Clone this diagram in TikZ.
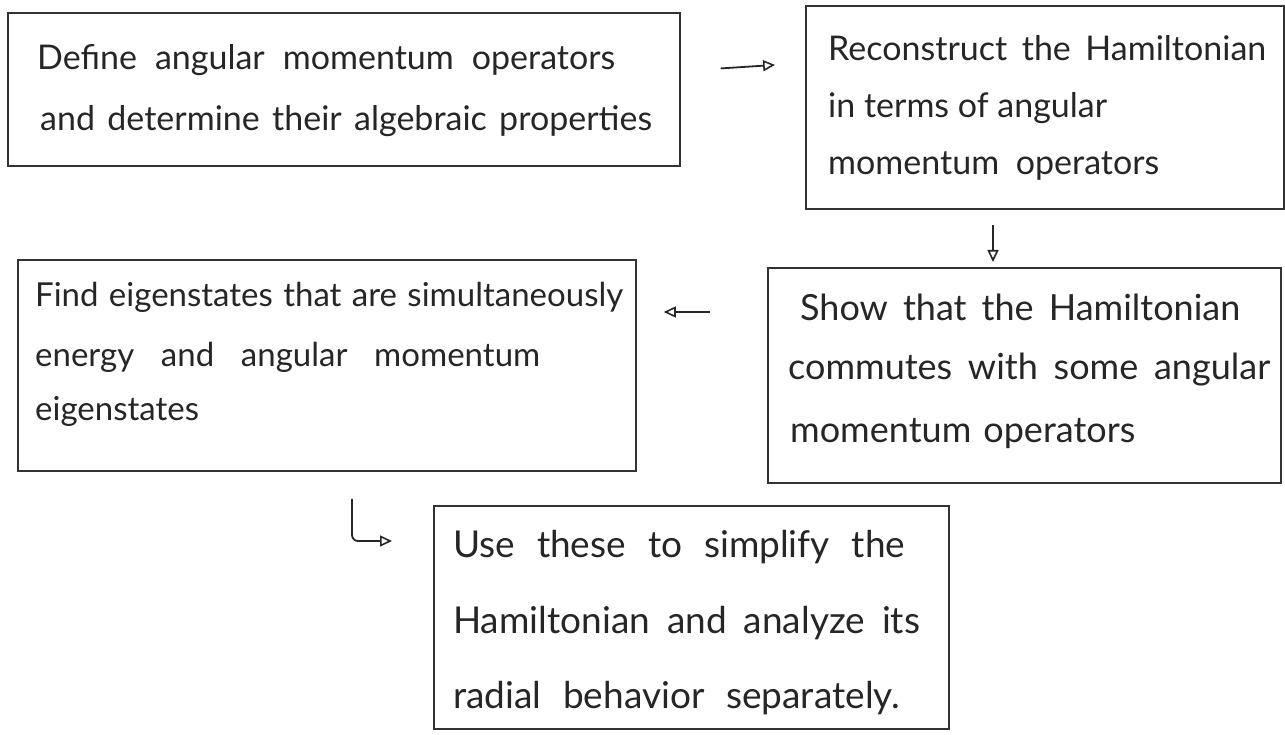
\documentclass[tikz,border=0pt]{standalone}
\usepackage{fontspec}
\setmainfont{Lato}
\usetikzlibrary{arrows.meta}
\newcommand{\spreadline}[2]{\makebox[#1pt][s]{#2}}
\begin{document}
\begin{tikzpicture}[x=1pt,y=-1pt,
  box/.style={draw=black!80, line width=1.8pt, anchor=north west, inner sep=0pt},
  txt/.style={anchor=base west, inner sep=0pt, font=\fontsize{34}{34}\selectfont, text=black!85},
  txtm/.style={txt, font=\fontsize{36}{36}\selectfont},
  txtl/.style={txt, font=\fontsize{37}{37}\selectfont},
  txts/.style={txt, font=\fontsize{33}{33}\selectfont},
  arr/.style={draw=black!85, line width=1.8pt, -{Triangle[open,length=12pt,width=11pt,line width=1.6pt]}}]
\useasboundingbox (0,0) rectangle (1285,735);
% boxes
\node[box, minimum width=672pt, minimum height=153pt] (b1) at (7,12) {};
\node[box, minimum width=478pt, minimum height=203pt] (b2) at (805,5) {};
\node[box, minimum width=618pt, minimum height=211pt] (b3) at (17,259) {};
\node[box, minimum width=513pt, minimum height=215pt] (b4) at (767,267) {};
\node[box, minimum width=515pt, minimum height=223pt] (b5) at (433,505) {};
% texts
\node[txt] (t1a) at (37,70) {\spreadline{578}{Define angular momentum operators}};
\node[txt] (t1b) at (40,131) {\spreadline{612}{and determine their algebraic properties}};
\node[txt] (t2a) at (828,61) {\spreadline{438}{Reconstruct the Hamiltonian}};
\node[txt] (t2b) at (828,118) {in terms of angular};
\node[txt] (t2c) at (828,175) {\spreadline{331}{momentum operators}};
\node[txts] (t3a) at (35,307) {\spreadline{588}{Find eigenstates that are simultaneously}};
\node[txts] (t3b) at (35,366) {\spreadline{505}{energy and angular momentum}};
\node[txts] (t3c) at (35,420) {eigenstates};
\node[txtm] (t4a) at (800,320) {\spreadline{440}{Show that the Hamiltonian}};
\node[txtm] (t4b) at (788,379) {\spreadline{482}{commutes with some angular}};
\node[txtm] (t4c) at (790,442) {\spreadline{345}{momentum operators}};
\node[txtl] (t5a) at (453,557) {\spreadline{452}{Use these to simplify the}};
\node[txtl] (t5b) at (453,633) {\spreadline{467}{Hamiltonian and analyze its}};
\node[txtl] (t5c) at (453,708) {\spreadline{447}{radial behavior separately.}};
% connectors
\draw[arr, shorten <=40pt, shorten >=30pt] (b1.east |- 0,71) -- (b2.west |- 0,63);
\draw[arr, shorten <=15pt, shorten >=5pt] (b2.south -| 993,0) -- (b4.north -| 993,0);
\draw[arr, shorten <=57pt, shorten >=27pt] (b4.west |- 0,312) -- (b3.east |- 0,312);
\draw[arr, rounded corners=6pt, shorten <=27pt, shorten >=41pt] (b3.south -| 352,0) |- (b5.west |- 0,541);
\end{tikzpicture}
\end{document}
